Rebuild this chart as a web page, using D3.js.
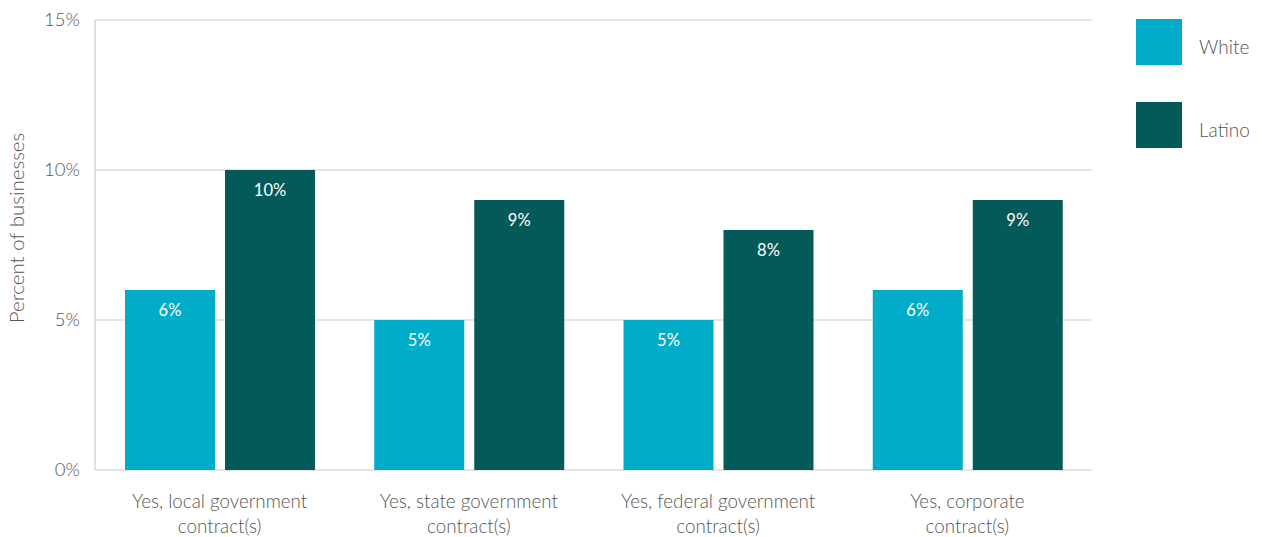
<!DOCTYPE html>
<html>
<head>
<meta charset="utf-8">
<script src="https://cdn.jsdelivr.net/npm/d3@7"></script>
<style>
  body { margin: 0; background: #fff; }
  text { font-family: "Source Sans Pro", Lato, "Open Sans", sans-serif; font-weight: 300; }
</style>
</head>
<body>
<svg id="chart" width="1262" height="537"></svg>
<script>
// Share of businesses holding each contract type, by owner group
const categories = [
  ["Yes, local government", "contract(s)"],
  ["Yes, state government", "contract(s)"],
  ["Yes, federal government", "contract(s)"],
  ["Yes, corporate", "contract(s)"]
];
const seriesNames = ["White", "Latino"];
const whiteValues = [6, 5, 5, 6];
const latinoValues = [10, 9, 8, 9];
const yTicks = [0, 5, 10, 15];
const colors = ["#00acc8", "#045a58"];
const textColor = "#555";

const svg = d3.select("#chart");
const margin = { left: 95, right: 170, top: 20, bottom: 67 };
const W = 1262, H = 537;
const innerW = W - margin.left - margin.right;
const innerH = H - margin.top - margin.bottom;
const g = svg.append("g").attr("transform", `translate(${margin.left},${margin.top})`);

const x0 = d3.scaleBand().domain(d3.range(categories.length)).range([0, innerW]);
const x1 = d3.scaleBand().domain(seriesNames).range([30, 220]).paddingInner(0.1);
const y = d3.scaleLinear().domain([0, 15]).range([innerH, 0]);

// gridlines and left axis line
g.selectAll("line.grid").data(yTicks).join("line")
  .attr("x1", 0).attr("x2", innerW)
  .attr("y1", d => y(d)).attr("y2", d => y(d))
  .attr("stroke", "#cfcbc7").attr("stroke-width", 1.2);
g.append("line").attr("x1", 0).attr("x2", 0).attr("y1", 0).attr("y2", innerH)
  .attr("stroke", "#cfcbc7").attr("stroke-width", 1.2);

// y tick labels
g.selectAll("text.ytick").data(yTicks).join("text")
  .attr("x", -15).attr("y", d => y(d)).attr("dy", "0.35em")
  .attr("text-anchor", "end").attr("fill", textColor).attr("font-size", 18.5)
  .text(d => d + "%");

// y title
svg.append("text")
  .attr("transform", `translate(24,${228}) rotate(-90)`)
  .attr("text-anchor", "middle").attr("fill", textColor).attr("font-size", 20.5)
  .text("Percent of businesses");

const rows = categories.map((c, i) => ({ i, vals: [whiteValues[i], latinoValues[i]] }));

const groups = g.selectAll("g.cat").data(rows).join("g")
  .attr("transform", d => `translate(${x0(d.i)},0)`);

groups.selectAll("rect").data(d => d.vals.map((v, k) => ({ k, v }))).join("rect")
  .attr("x", d => x1(seriesNames[d.k]))
  .attr("width", x1.bandwidth())
  .attr("y", d => y(d.v))
  .attr("height", d => innerH - y(d.v))
  .attr("fill", d => colors[d.k]);

groups.selectAll("text.val").data(d => d.vals.map((v, k) => ({ k, v }))).join("text")
  .attr("x", d => x1(seriesNames[d.k]) + x1.bandwidth() / 2)
  .attr("y", d => y(d.v) + 26)
  .attr("text-anchor", "middle").attr("fill", "#fff").attr("font-size", 16.5)
  .style("font-weight", 400)
  .text(d => d.v + "%");

// category labels
groups.each(function (d) {
  const t = d3.select(this).append("text")
    .attr("x", x0.bandwidth() / 2).attr("y", innerH + 38)
    .attr("text-anchor", "middle").attr("fill", textColor).attr("font-size", 18.8);
  categories[d.i].forEach((line, j) => {
    t.append("tspan").attr("x", x0.bandwidth() / 2).attr("dy", j === 0 ? 0 : 25).text(line);
  });
});

// legend
const legend = svg.append("g").attr("transform", "translate(1136,19)");
seriesNames.forEach((name, k) => {
  legend.append("rect").attr("x", 0).attr("y", k * 83).attr("width", 46).attr("height", 46).attr("fill", colors[k]);
  legend.append("text").attr("x", 63).attr("y", k * 83 + 28).attr("dy", "0.35em")
    .attr("fill", textColor).attr("font-size", 19).text(name);
});
</script>
</body>
</html>
